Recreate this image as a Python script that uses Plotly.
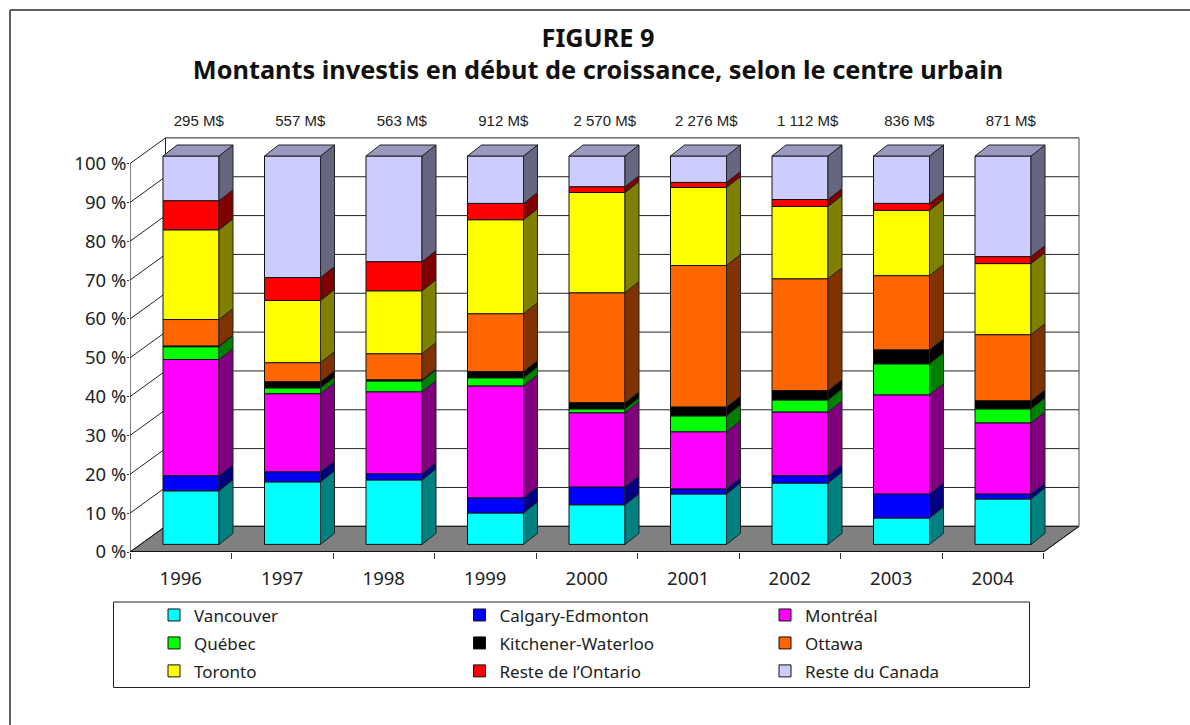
import numpy as np
import plotly.graph_objects as go

years = ["1996", "1997", "1998", "1999", "2000", "2001", "2002", "2003", "2004"]
totals = ["295 M$", "557 M$", "563 M$", "912 M$", "2 570 M$", "2 276 M$", "1 112 M$", "836 M$", "871 M$"]

vancouver = [13.8, 16.1, 16.6, 8.1, 10.2, 13.0, 15.8, 6.8, 11.7]
calgary = [3.9, 2.6, 1.6, 3.9, 4.6, 1.3, 1.9, 6.2, 1.3]
montreal = [29.9, 20.1, 21.1, 28.8, 19.1, 14.7, 16.4, 25.5, 18.3]
quebec = [3.3, 1.5, 2.8, 2.1, 1.0, 4.1, 3.1, 8.0, 3.6]
kitchener = [0.2, 1.6, 0.3, 1.6, 1.6, 2.3, 2.4, 3.6, 2.1]
ottawa = [6.8, 4.9, 6.7, 14.9, 28.3, 36.4, 28.8, 19.1, 17.0]
toronto = [23.1, 16.0, 16.2, 24.2, 25.8, 20.1, 18.6, 16.8, 18.3]
reste_ontario = [7.5, 5.9, 7.5, 4.2, 1.5, 1.3, 1.8, 1.8, 1.8]
reste_canada = [11.5, 31.3, 27.2, 12.2, 7.9, 6.8, 11.2, 12.2, 25.9]

series_names = ["Vancouver", "Calgary-Edmonton", "Montréal", "Québec", "Kitchener-Waterloo",
                "Ottawa", "Toronto", "Reste de l’Ontario", "Reste du Canada"]
series_values = [vancouver, calgary, montreal, quebec, kitchener, ottawa, toronto, reste_ontario, reste_canada]
front_colors = ["#00FFFF", "#0000FF", "#FF00FF", "#00FF00", "#000000", "#FF6600", "#FFFF00", "#FF0000", "#CCCCFF"]
side_colors = ["#008080", "#000080", "#800080", "#008000", "#000000", "#803300", "#808000", "#800000", "#666680"]
top_color = "#9999BF"

# geometry: pixel layout of the page
W, H = 1190, 725
L, R, T, B = 130, 1085, 110, 552
PX_X = 101.5     # px per category
PX_Y = 3.884     # px per percent
WALL_DX, WALL_DY = 35.5 / PX_X, 25.7 / PX_Y
BAR_SHIFT_X, BAR_BASE = 10.25 / PX_X, 7.6 / PX_Y
BAR_W = 56 / PX_X
BAR_DX, BAR_DY = 14 / PX_X, 11 / PX_Y
X0, X1 = -0.5, 8.5
EDGE = "#222222"

def px(v):
    return (v - L) / (R - L)

def py(v):
    return (B - v) / (B - T)

fig = go.Figure()
centers = np.arange(len(years)) + BAR_SHIFT_X
cum = np.zeros(len(years))

side_traces = []
for name, vals, fc, sc in zip(series_names, series_values, front_colors, side_colors):
    vals = np.array(vals)
    fig.add_trace(go.Bar(
        x=centers, y=vals, base=cum + BAR_BASE, width=BAR_W, name=f"<span style='font-size:17px'>{name}</span>",
        marker=dict(color=fc, line=dict(color="#111111", width=1)), hoverinfo="skip"))
    xs, ys = [], []
    for c, b, v in zip(centers, cum, vals):
        xr = c + BAR_W / 2
        y0 = b + BAR_BASE
        xs += [xr, xr + BAR_DX, xr + BAR_DX, xr, xr, None]
        ys += [y0, y0 + BAR_DY, y0 + v + BAR_DY, y0 + v, y0, None]
    side_traces.append(go.Scatter(x=xs, y=ys, mode="lines", fill="toself", fillcolor=sc,
                                  line=dict(color=EDGE, width=1), showlegend=False, hoverinfo="skip"))
    cum = cum + vals

for t in side_traces:
    fig.add_trace(t)

# top faces
xs, ys = [], []
for c, b in zip(centers, cum):
    xl, xr = c - BAR_W / 2, c + BAR_W / 2
    y0 = b + BAR_BASE
    xs += [xl, xr, xr + BAR_DX, xl + BAR_DX, xl, None]
    ys += [y0, y0, y0 + BAR_DY, y0 + BAR_DY, y0, None]
fig.add_trace(go.Scatter(x=xs, y=ys, mode="lines", fill="toself", fillcolor=top_color,
                         line=dict(color=EDGE, width=1), showlegend=False, hoverinfo="skip"))

# totals above the bars
fig.add_trace(go.Scatter(
    x=np.arange(len(years)) + 18 / PX_X, y=[(B - 122) / PX_Y] * len(years), mode="text", text=totals,
    textfont=dict(family="Liberation Sans", size=15, color="#222222"),
    showlegend=False, hoverinfo="skip", cliponaxis=False))

shapes = []
def line(x0, y0, x1, y1, color=EDGE, width=1):
    shapes.append(dict(type="line", xref="x", yref="y", x0=x0, y0=y0, x1=x1, y1=y1,
                       line=dict(color=color, width=width), layer="below"))

# floor
shapes.append(dict(type="path", xref="x", yref="y", layer="below", fillcolor="#808080",
                   line=dict(color="#111111", width=1),
                   path=f"M{X0},0 L{X1},0 L{X1 + WALL_DX},{WALL_DY} L{X0 + WALL_DX},{WALL_DY} Z"))
# walls
for v in range(0, 101, 10):
    line(X0, v, X0 + WALL_DX, v + WALL_DY)
    line(X0 + WALL_DX, v + WALL_DY, X1 + WALL_DX, v + WALL_DY)
line(X0 + WALL_DX, WALL_DY, X0 + WALL_DX, 100 + WALL_DY)
line(X1 + WALL_DX, WALL_DY, X1 + WALL_DX, 100 + WALL_DY, color="#444444")
line(X1, 0, X1 + WALL_DX, WALL_DY)
# front axis lines
line(X0, 0, X0, 100, color="#000000")
line(X0, 0, X1, 0, color="#000000", width=1.5)

# outer frame and legend box (paper-positioned decoration)
for a, b, c, d in [(10, 10, 10, H), (10, 10, W, 10)]:
    shapes.append(dict(type="line", xref="paper", yref="paper", x0=px(a), y0=py(b), x1=px(c), y1=py(d),
                       line=dict(color="#606060", width=2)))
shapes.append(dict(type="rect", xref="paper", yref="paper", x0=px(113.5), y0=py(602), x1=px(1029.5), y1=py(687.5),
                   line=dict(color="#222222", width=1), fillcolor="rgba(0,0,0,0)"))

fig.update_layout(
    width=W, height=H, autosize=False,
    margin=dict(l=L, r=W - R, t=T, b=H - B, pad=0),
    paper_bgcolor="white", plot_bgcolor="white",
    barmode="overlay",
    shapes=shapes,
    font=dict(family="Noto Sans", color="#222222"),
    title=dict(text="FIGURE 9<br>Montants investis en début de croissance, selon le centre urbain",
               x=598 / W, xanchor="center", y=1 - 46.5 / H, yanchor="top",
               font=dict(family="Noto Sans", size=25.3, color="#111111", weight="bold")),
    xaxis=dict(range=[X0, X0 + (R - L) / PX_X], tickmode="array", tickvals=list(range(len(years))), ticktext=years,
               ticks="", showgrid=False, zeroline=False, showline=False,
               tickfont=dict(size=18.5), ticklabelstandoff=13,
               minor=dict(tickmode="linear", tick0=-0.5, dtick=1, ticks="outside", ticklen=6,
                          tickcolor="#333333", showgrid=False)),
    yaxis=dict(range=[0, (B - T) / PX_Y], tickmode="array", tickvals=list(range(0, 101, 10)),
               ticktext=[f"{v} %" for v in range(0, 101, 10)],
               ticks="outside", ticklen=2, tickcolor="#333333", showgrid=False, zeroline=False, showline=False,
               tickfont=dict(size=18.5), ticklabelstandoff=-3),
    legend=dict(orientation="h", x=px(154), xanchor="left", y=py(596), yanchor="top",
                entrywidth=260.5, entrywidthmode="pixels", font=dict(size=19.2),
                bgcolor="rgba(0,0,0,0)", traceorder="normal"),
)

fig.write_html("out.html", config=dict(displayModeBar=False), post_script="document.body.style.margin='0';")
